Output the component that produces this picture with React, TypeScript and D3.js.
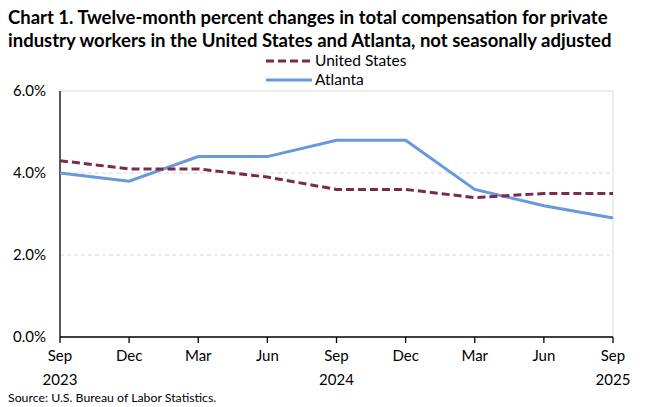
import React from "react";
import * as d3 from "d3";

const quarters = ["Sep", "Dec", "Mar", "Jun", "Sep", "Dec", "Mar", "Jun", "Sep"];
const years = ["2023", "", "", "", "2024", "", "", "", "2025"];
const usValues = [4.3, 4.1, 4.1, 3.9, 3.6, 3.6, 3.4, 3.5, 3.5];
const atlantaValues = [4.0, 3.8, 4.4, 4.4, 4.8, 4.8, 3.6, 3.2, 2.9];
const yTicks = [0, 2, 4, 6];

const W = 652, H = 407;
const left = 60, right = 613, top = 91, bottom = 337;
const font = "Lato, 'Open Sans', sans-serif";

export default function App() {
  const x = d3.scaleLinear().domain([0, quarters.length - 1]).range([left, right]);
  const y = d3.scaleLinear().domain([0, 6]).range([bottom, top]);
  const line = d3.line<number>().x((_, i) => x(i)).y((d) => y(d));
  return (
    <svg width={W} height={H} style={{ position: "absolute", left: 0, top: 0, background: "#fff" }} fontFamily={font}>
      <text x={8} y={24} fontSize={18.5} fontWeight="bold" fill="#000">Chart 1. Twelve-month percent changes in total compensation for private</text>
      <text x={8} y={47} fontSize={18.5} fontWeight="bold" fill="#000">industry workers in the United States and Atlanta, not seasonally adjusted</text>
      {/* legend */}
      <line x1={266} x2={312} y1={61} y2={61} stroke="#7b2a4e" strokeWidth={3} strokeDasharray="8,4" />
      <text x={315} y={66} fontSize={15.5} fill="#000">United States</text>
      <line x1={266} x2={312} y1={80} y2={80} stroke="#6a98dc" strokeWidth={3} />
      <text x={315} y={85} fontSize={15.5} fill="#000">Atlanta</text>
      {/* grid */}
      {yTicks.map((t) => (
        t === 0 ? null :
        <line key={t} x1={left} x2={right} y1={y(t)} y2={y(t)} stroke="#d9d9d9" strokeWidth={1} strokeDasharray={t === 6 ? undefined : "4,3"} />
      ))}
      <line x1={right} x2={right} y1={top} y2={bottom} stroke="#d9d9d9" strokeWidth={1} />
      {yTicks.map((t) => (
        <text key={t} x={left - 14} y={y(t) + 5} fontSize={15} textAnchor="end" fill="#000">{t.toFixed(1)}%</text>
      ))}
      {/* axes */}
      <line x1={left} x2={left} y1={top} y2={bottom} stroke="#000" strokeWidth={1.3} />
      <line x1={left} x2={right} y1={bottom} y2={bottom} stroke="#000" strokeWidth={1.3} />
      {quarters.map((q, i) => (
        <g key={i}>
          <line x1={x(i)} x2={x(i)} y1={bottom} y2={bottom + 6} stroke="#000" strokeWidth={1.3} />
          <text x={x(i)} y={361} fontSize={15} textAnchor="middle" fill="#000">{q}</text>
          {years[i] && <text x={x(i)} y={385} fontSize={15} textAnchor="middle" fill="#000">{years[i]}</text>}
        </g>
      ))}
      <path d={line(atlantaValues) || ""} fill="none" stroke="#6a98dc" strokeWidth={3} />
      <path d={line(usValues) || ""} fill="none" stroke="#7b2a4e" strokeWidth={3} strokeDasharray="8,4" />
      <text x={8} y={402} fontSize={12.3} fill="#000">Source: U.S. Bureau of Labor Statistics.</text>
    </svg>
  );
}
